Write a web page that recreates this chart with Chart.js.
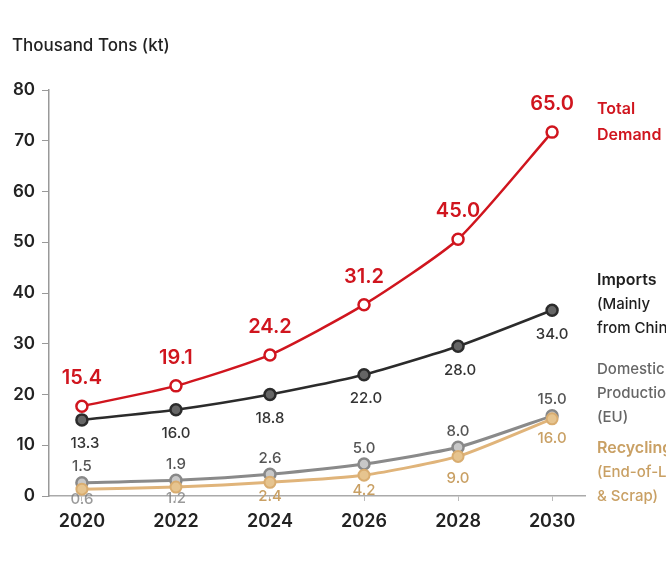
<!DOCTYPE html>
<html>
<head>
<meta charset="utf-8">
<script src="https://cdn.jsdelivr.net/npm/chart.js@4"></script>
<style>
  html, body { margin: 0; padding: 0; background: #fff; }
  #wrap { width: 666px; height: 563px; }
</style>
</head>
<body>
<div id="wrap"><canvas id="chart" width="666" height="563"></canvas></div>
<script>
// values (marker positions) and the printed labels
const years = [2020, 2022, 2024, 2026, 2028, 2030];
const totalDemand = [17.7, 21.7, 27.8, 37.7, 50.6, 71.7];
const imports = [15.0, 17.0, 20.0, 23.9, 29.5, 36.6];
const domestic = [2.6, 3.1, 4.3, 6.3, 9.6, 15.8];
const recycling = [1.35, 1.75, 2.7, 4.1, 7.8, 15.2];

const totalLabels = ['15.4', '19.1', '24.2', '31.2', '45.0', '65.0'];
const importLabels = ['13.3', '16.0', '18.8', '22.0', '28.0', '34.0'];
const domesticLabels = ['1.5', '1.9', '2.6', '5.0', '8.0', '15.0'];
const recyclingLabels = ['0.6', '1.2', '2.4', '4.2', '9.0', '16.0'];

const yTicks = [0, 10, 20, 30, 40, 50, 60, 70, 80];

const RED = '#d0151e', BLACK = '#2b2b2b', GRAY = '#8a8a8a', TAN = '#e0b47a';
const FONT = 'Inter, "Open Sans", Arial, sans-serif';

const pts = arr => arr.map((v, i) => ({ x: years[i], y: v }));

// point labels + right side series names
const annotate = {
  id: 'annotate',
  afterDatasetsDraw(chart) {
    const ctx = chart.ctx;
    const xs = chart.scales.x, ys = chart.scales.y;
    ctx.save();
    ctx.textAlign = 'center';
    ctx.textBaseline = 'middle';

    const put = (vals, labels, color, font, dy, dxs) => {
      ctx.fillStyle = color;
      ctx.font = font;
      vals.forEach((v, i) => {
        const dx = dxs ? dxs[i] : 0;
        ctx.fillText(labels[i], xs.getPixelForValue(years[i]) + dx, ys.getPixelForValue(v) + dy);
      });
    };
    put(totalDemand, totalLabels, RED, '600 20px ' + FONT, -28);
    put(imports, importLabels, '#333', '500 15px ' + FONT, 24, [3, 0, 0, 2, 2, 0]);
    put(domestic, domesticLabels, '#555', '500 15px ' + FONT, -16);
    ctx.font = '500 15px ' + FONT;
    recycling.forEach((v, i) => {
      ctx.fillStyle = i < 2 ? 'rgba(120,120,120,0.75)' : '#c9a064';
      const dy = [10, 11, 14, 15, 22, 20][i];
      ctx.fillText(recyclingLabels[i], xs.getPixelForValue(years[i]), ys.getPixelForValue(v) + dy);
    });

    ctx.textAlign = 'left';
    const side = (lines, color, font, y0, gap) => {
      ctx.fillStyle = color;
      ctx.font = font;
      lines.forEach((t, i) => ctx.fillText(t, 597, y0 + i * gap));
    };
    side(['Total', 'Demand'], RED, '600 16px ' + FONT, 109, 26);
    side(['Imports'], '#1e1e1e', '600 16px ' + FONT, 280, 24);
    side(['(Mainly', 'from China)'], '#1e1e1e', '500 15px ' + FONT, 304, 24);
    side(['Domestic', 'Production', '(EU)'], '#666', '500 15px ' + FONT, 369, 24);
    side(['Recycling'], '#c9a064', '600 16px ' + FONT, 448, 24);
    side(['(End-of-Life', '& Scrap)'], '#c9a064', '500 15px ' + FONT, 472, 24);

    ctx.fillStyle = '#222';
    ctx.font = '500 17px ' + FONT;
    ctx.fillText('Thousand Tons (kt)', 12, 46);
    ctx.restore();
  }
};

new Chart(document.getElementById('chart'), {
  type: 'line',
  data: {
    datasets: [
      { label: 'Total Demand', data: pts(totalDemand), borderColor: RED, borderWidth: 2.5,
        pointBackgroundColor: '#fff', pointBorderColor: RED, pointBorderWidth: 2.5, pointRadius: 5.5, order: 1 },
      { label: 'Imports', data: pts(imports), borderColor: BLACK, borderWidth: 2.5,
        pointBackgroundColor: '#666', pointBorderColor: BLACK, pointBorderWidth: 2.5, pointRadius: 5.5, order: 2 },
      { label: 'Recycling', data: pts(recycling), borderColor: TAN, borderWidth: 3,
        pointBackgroundColor: '#e6c48f', pointBorderColor: '#d9ad70', pointBorderWidth: 2, pointRadius: 5.5, order: 3 },
      { label: 'Domestic Production', data: pts(domestic), borderColor: GRAY, borderWidth: 3,
        pointBackgroundColor: '#c8c8c8', pointBorderColor: '#888', pointBorderWidth: 2.5, pointRadius: 5.5, order: 4 }
    ]
  },
  options: {
    responsive: false,
    animation: false,
    layout: { padding: { top: 90, right: 81, left: 0, bottom: 0 } },
    elements: { line: { tension: 0.2 } },
    plugins: { legend: { display: false }, tooltip: { enabled: false } },
    scales: {
      x: {
        type: 'linear', min: 2019.3, max: 2030.7,
        afterBuildTicks: s => { s.ticks = years.map(v => ({ value: v })); },
        afterFit: s => { s.height = 67; },
        grid: { drawOnChartArea: false, drawTicks: true, tickLength: 5, color: '#bbb' },
        border: { display: true, color: '#aaa', width: 1.5 },
        ticks: { color: '#222', padding: 10, font: { family: FONT, size: 18, weight: '600' }, callback: v => String(v) }
      },
      y: {
        min: 0, max: 80,
        afterBuildTicks: s => { s.ticks = yTicks.map(v => ({ value: v })); },
        afterFit: s => { s.width = 49; },
        grid: { drawOnChartArea: false, drawTicks: true, tickLength: 7, color: '#999' },
        border: { display: true, color: '#999', width: 1.5 },
        ticks: { color: '#222', padding: 7, font: { family: FONT, size: 17, weight: '600' } }
      }
    }
  },
  plugins: [annotate]
});
</script>
</body>
</html>
